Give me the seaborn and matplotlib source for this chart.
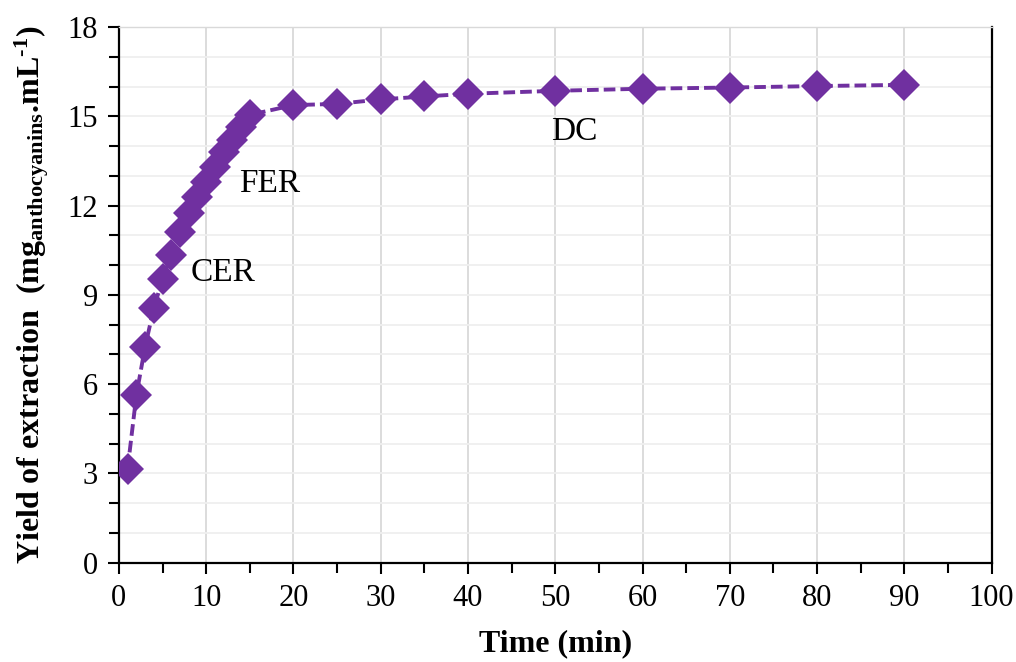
import numpy as np
import pandas as pd
import seaborn as sns
import matplotlib.pyplot as plt
from matplotlib.ticker import MultipleLocator

# Dados
tempo_min = [1, 2, 3, 4, 5, 6, 7, 8, 9, 10, 11, 12, 13, 14, 15,
             20, 25, 30, 35, 40, 50, 60, 70, 80, 90]
rendimento = [3.15, 5.62, 7.25, 8.55, 9.53, 10.35, 11.1, 11.75, 12.3, 12.8,
              13.3, 13.8, 14.2, 14.65, 15.05,
              15.38, 15.42, 15.57, 15.67, 15.76, 15.86, 15.93, 15.97, 16.02, 16.06]

rotulos = ["CER", "FER", "DC"]
rotulos_x = [8.2, 13.8, 49.5]
rotulos_y = [9.75, 12.75, 14.5]

df = pd.DataFrame({"tempo": tempo_min, "rendimento": rendimento})

sns.set_style("white")
plt.rcParams["font.family"] = ["Liberation Serif", "DejaVu Serif"]
plt.rcParams["text.color"] = "black"
plt.rcParams["axes.labelcolor"] = "black"
plt.rcParams["xtick.color"] = "black"
plt.rcParams["ytick.color"] = "black"
plt.rcParams["mathtext.fontset"] = "custom"
plt.rcParams["mathtext.rm"] = "Liberation Serif:bold"
plt.rcParams["mathtext.bf"] = "Liberation Serif:bold"
plt.rcParams["mathtext.it"] = "Liberation Serif:bold"

cor = "#7030A0"

fig = plt.figure(figsize=(10.16, 6.62), dpi=100)
ax = fig.add_axes([0.117, 0.150, 0.859, 0.809])

sns.lineplot(data=df, x="tempo", y="rendimento", ax=ax, color=cor,
             marker="D", markersize=16, markeredgewidth=0, linewidth=2.8,
             linestyle=(0, (3, 1.3)), zorder=3)

ax.set_xlim(0, 100)
ax.set_ylim(0, 18)
ax.xaxis.set_major_locator(MultipleLocator(10))
ax.xaxis.set_minor_locator(MultipleLocator(5))
ax.yaxis.set_major_locator(MultipleLocator(3))
ax.yaxis.set_minor_locator(MultipleLocator(1))

# Grade
ax.grid(True, axis="x", which="major", color="#d9d9d9", linewidth=1.3)
ax.grid(True, axis="y", which="both", color="#efefef", linewidth=1.3)
ax.set_axisbelow(True)

for lado in ["left", "right", "top", "bottom"]:
    ax.spines[lado].set_visible(True)
    ax.spines[lado].set_color("black")
    ax.spines[lado].set_linewidth(1.6)
ax.spines["top"].set_color("#d9d9d9")
ax.spines["top"].set_linewidth(1.0)

ax.tick_params(axis="both", which="both", direction="out",
               width=1.5, bottom=True, left=True)
ax.tick_params(axis="both", which="major", length=8, labelsize=22, pad=7)
ax.tick_params(axis="both", which="minor", length=7)

for txt, x, y in zip(rotulos, rotulos_x, rotulos_y):
    ax.text(x, y, txt, fontsize=24, ha="left", va="center")

ax.set_xlabel("Time (min)", fontsize=23, fontweight="bold", labelpad=12)
ax.set_ylabel(r"Yield of extraction  (mg$_{\mathrm{anthocyanins}}$.mL$^{\text{-1}}$)",
              fontsize=23, fontweight="bold", labelpad=12)

fig.savefig("out.png", dpi=100)
